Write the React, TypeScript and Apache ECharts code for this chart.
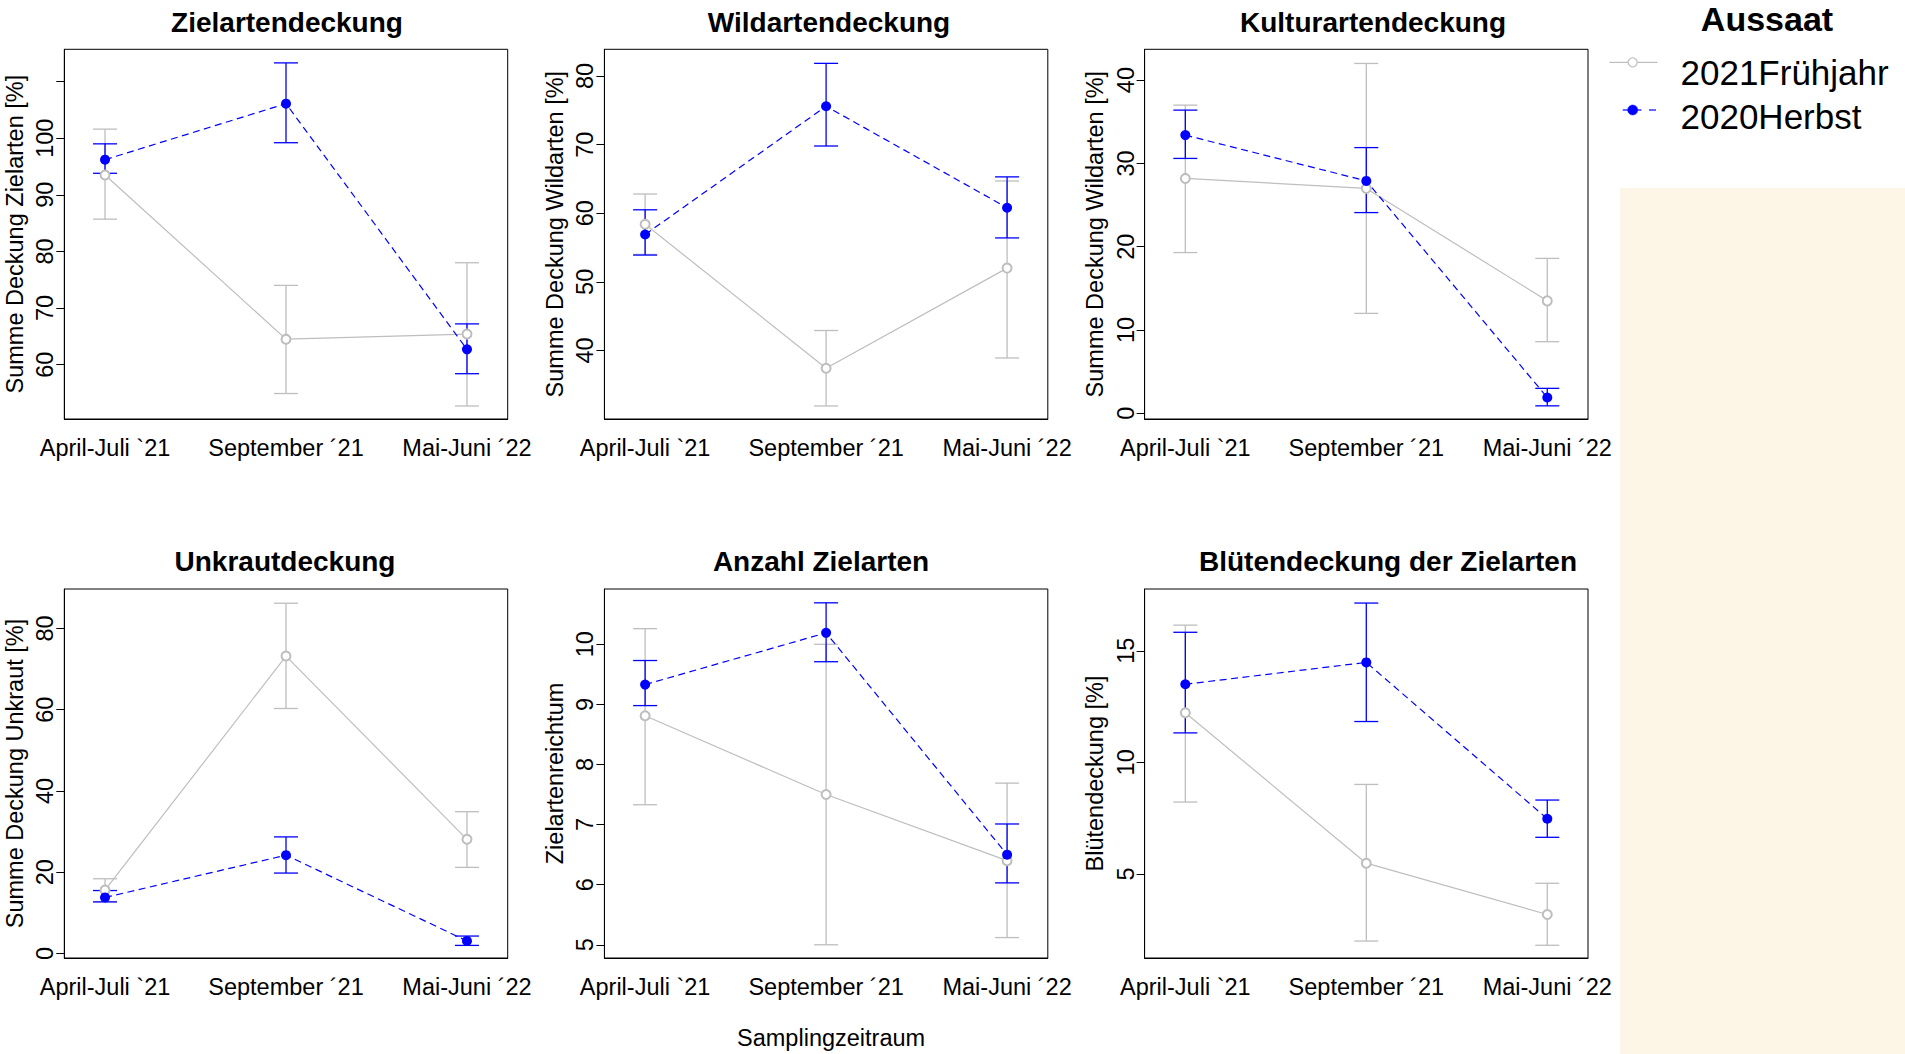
import React, { useEffect, useRef } from "react";
import * as echarts from "echarts";

// ---------- data ----------
const categories = ["April-Juli `21", "September ´21", "Mai-Juni ´22"];
const seriesNames = ["2021Frühjahr", "2020Herbst"];
const legendTitle = "Aussaat";
const xAxisTitle = "Samplingzeitraum";

const panelTitles = [
  "Zielartendeckung",
  "Wildartendeckung",
  "Kulturartendeckung",
  "Unkrautdeckung",
  "Anzahl Zielarten",
  "Blütendeckung der Zielarten",
];
const yAxisNames = [
  "Summe Deckung Zielarten [%]",
  "Summe Deckung Wildarten [%]",
  "Summe Deckung Wildarten [%]",
  "Summe Deckung Unkraut [%]",
  "Zielartenreichtum",
  "Blütendeckung [%]",
];

// Zielartendeckung
const zielFrMean = [93.5, 64.5, 65.4];
const zielFrLo = [85.7, 54.9, 52.7];
const zielFrHi = [101.6, 74.0, 78.0];
const zielHeMean = [96.2, 106.1, 62.7];
const zielHeLo = [93.8, 99.2, 58.4];
const zielHeHi = [99.0, 113.3, 67.2];
const zielTicks = [60, 70, 80, 90, 100, 110];
const zielTickLabels = [60, 70, 80, 90, 100];
const zielRange = [50.4, 115.7];

// Wildartendeckung
const wildFrMean = [58.4, 37.4, 52.0];
const wildFrLo = [54.0, 31.9, 38.9];
const wildFrHi = [62.8, 42.9, 64.7];
const wildHeMean = [56.9, 75.6, 60.8];
const wildHeLo = [53.9, 69.8, 56.4];
const wildHeHi = [60.5, 81.85, 65.3];
const wildTicks = [40, 50, 60, 70, 80];
const wildTickLabels = [40, 50, 60, 70, 80];
const wildRange = [30.0, 83.9];

// Kulturartendeckung
const kultFrMean = [28.2, 27.0, 13.5];
const kultFrLo = [19.3, 12.0, 8.6];
const kultFrHi = [37.0, 42.0, 18.6];
const kultHeMean = [33.4, 27.9, 1.9];
const kultHeLo = [30.6, 24.1, 0.9];
const kultHeHi = [36.4, 31.9, 3.0];
const kultTicks = [0, 10, 20, 30, 40];
const kultTickLabels = [0, 10, 20, 30, 40];
const kultRange = [-0.68, 43.7];

// Unkrautdeckung
const unkFrMean = [15.6, 73.2, 28.1];
const unkFrLo = [12.8, 60.3, 21.2];
const unkFrHi = [18.4, 86.2, 34.9];
const unkHeMean = [13.8, 24.2, 3.1];
const unkHeLo = [12.7, 19.8, 2.0];
const unkHeHi = [15.5, 28.7, 4.3];
const unkTicks = [0, 20, 40, 60, 80];
const unkTickLabels = [0, 20, 40, 60, 80];
const unkRange = [-1.1, 89.7];

// Anzahl Zielarten
const anzFrMean = [8.81, 7.5, 6.4];
const anzFrLo = [7.33, 5.0, 5.12];
const anzFrHi = [10.26, 10.0, 7.69];
const anzHeMean = [9.33, 10.19, 6.5];
const anzHeLo = [8.98, 9.71, 6.03];
const anzHeHi = [9.73, 10.69, 7.01];
const anzTicks = [5, 6, 7, 8, 9, 10];
const anzTickLabels = [5, 6, 7, 8, 9, 10];
const anzRange = [4.78, 10.92];

// Blütendeckung der Zielarten
const blueFrMean = [12.22, 5.48, 3.18];
const blueFrLo = [8.22, 1.99, 1.8];
const blueFrHi = [16.15, 9.01, 4.58];
const blueHeMean = [13.5, 14.48, 7.47];
const blueHeLo = [11.32, 11.83, 6.64];
const blueHeHi = [15.83, 17.14, 8.31];
const blueTicks = [5, 10, 15];
const blueTickLabels = [5, 10, 15];
const blueRange = [1.23, 17.77];

const panels = [
  { fr: [zielFrMean, zielFrLo, zielFrHi], he: [zielHeMean, zielHeLo, zielHeHi], ticks: zielTicks, labels: zielTickLabels, range: zielRange },
  { fr: [wildFrMean, wildFrLo, wildFrHi], he: [wildHeMean, wildHeLo, wildHeHi], ticks: wildTicks, labels: wildTickLabels, range: wildRange },
  { fr: [kultFrMean, kultFrLo, kultFrHi], he: [kultHeMean, kultHeLo, kultHeHi], ticks: kultTicks, labels: kultTickLabels, range: kultRange },
  { fr: [unkFrMean, unkFrLo, unkFrHi], he: [unkHeMean, unkHeLo, unkHeHi], ticks: unkTicks, labels: unkTickLabels, range: unkRange },
  { fr: [anzFrMean, anzFrLo, anzFrHi], he: [anzHeMean, anzHeLo, anzHeHi], ticks: anzTicks, labels: anzTickLabels, range: anzRange },
  { fr: [blueFrMean, blueFrLo, blueFrHi], he: [blueHeMean, blueHeLo, blueHeHi], ticks: blueTicks, labels: blueTickLabels, range: blueRange },
];

// ---------- layout / style ----------
const FONT = "'Liberation Sans', Arial, Helvetica, sans-serif";
const GREY = "#BEBEBE";
const BLUE = "#0000FF";
const gridLefts = [64.3, 604.4, 1144.6];
const gridTops = [49.3, 589];
const gridWidth = 443.4;
const gridHeights = [369.7, 369];
const titleCenters = [287, 829, 1373, 285, 821, 1388];
const titleTops = [8, 547];

function errRender(color: string) {
  return (params: any, api: any) => {
    const x = api.value(0);
    const lo = api.value(1);
    const hi = api.value(2);
    const a = api.coord([x, hi]);
    const b = api.coord([x, lo]);
    const hw = 12;
    const style = { stroke: color, lineWidth: 1.3, fill: null };
    return {
      type: "group",
      children: [
        { type: "line", shape: { x1: a[0], y1: a[1], x2: b[0], y2: b[1] }, style },
        { type: "line", shape: { x1: a[0] - hw, y1: a[1], x2: a[0] + hw, y2: a[1] }, style },
        { type: "line", shape: { x1: b[0] - hw, y1: b[1], x2: b[0] + hw, y2: b[1] }, style },
      ],
    };
  };
}

function buildLegendGraphic() {
  const x0 = 1609.5;
  const x1 = 1657.5;
  const xm = 1632.7;
  const textX = 1680.5;
  const y1 = 62.3;
  const y2 = 110;
  const textStyle = { fontSize: 35, fontFamily: FONT, fill: "#000", verticalAlign: "middle", align: "left" };
  return [
    { type: "line", silent: true, shape: { x1: x0, y1: y1, x2: x1, y2: y1 }, style: { stroke: GREY, lineWidth: 1.2 } },
    { type: "circle", silent: true, shape: { cx: xm, cy: y1, r: 4.5 }, style: { fill: "#fff", stroke: GREY, lineWidth: 1.2 } },
    { type: "text", silent: true, x: textX, y: 72.5, style: { ...textStyle, text: seriesNames[0] } },
    { type: "line", silent: true, shape: { x1: 1622.7, y1: y2, x2: 1641.5, y2: y2 }, style: { stroke: BLUE, lineWidth: 1.2 } },
    { type: "line", silent: true, shape: { x1: 1649, y1: y2, x2: 1656, y2: y2 }, style: { stroke: BLUE, lineWidth: 1.2 } },
    { type: "circle", silent: true, shape: { cx: xm, cy: y2, r: 5 }, style: { fill: BLUE, stroke: BLUE, lineWidth: 0.5 } },
    { type: "text", silent: true, x: textX, y: 116.3, style: { ...textStyle, text: seriesNames[1] } },
  ];
}

function buildOption() {
  const xs = [1, 2, 3];
  const grid: any[] = [];
  const xAxis: any[] = [];
  const yAxis: any[] = [];
  const series: any[] = [];
  const title: any[] = [];

  panels.forEach((p, i) => {
    const col = i % 3;
    const row = Math.floor(i / 3);
    grid.push({
      left: gridLefts[col],
      top: gridTops[row],
      width: gridWidth,
      height: gridHeights[row],
      show: true,
      borderColor: "#000",
      borderWidth: 1,
      backgroundColor: "transparent",
      containLabel: false,
      outerBoundsMode: "none",
    });
    xAxis.push({
      type: "value",
      gridIndex: i,
      min: 0.775,
      max: 3.225,
      axisLine: { show: true, onZero: false, lineStyle: { color: "#000", width: 1 } },
      axisTick: { show: false },
      splitLine: { show: false },
      axisLabel: {
        customValues: xs,
        formatter: (v: number) => categories[Math.round(v) - 1] ?? "",
        fontSize: 23.5,
        color: "#000",
        fontFamily: FONT,
        margin: 17,
      },
      ...(i === 4
        ? {
            name: xAxisTitle,
            nameLocation: "middle",
            nameGap: 68,
            nameTextStyle: { fontSize: 23.5, color: "#000", fontFamily: FONT, padding: [0, 0, 0, 10] },
          }
        : {}),
    });
    yAxis.push({
      type: "value",
      gridIndex: i,
      min: p.range[0],
      max: p.range[1],
      axisLine: { show: true, onZero: false, lineStyle: { color: "#000", width: 1 } },
      axisTick: { show: true, length: 8, customValues: p.ticks, lineStyle: { color: "#000", width: 1 } },
      splitLine: { show: false },
      axisLabel: {
        customValues: p.labels,
        rotate: 90,
        margin: 7,
        fontSize: 23.5,
        color: "#000",
        fontFamily: FONT,
      },
      name: yAxisNames[i],
      nameLocation: "middle",
      nameRotate: 90,
      nameGap: 37.5,
      nameTextStyle: { fontSize: 23.5, color: "#000", fontFamily: FONT },
    });
    title.push({
      text: panelTitles[i],
      left: titleCenters[i],
      top: titleTops[row],
      textAlign: "center",
      padding: 0,
      textStyle: { fontSize: 28, fontWeight: "bold", color: "#000", fontFamily: FONT },
    });

    series.push({
      type: "custom",
      name: seriesNames[0] + " SE",
      xAxisIndex: i,
      yAxisIndex: i,
      silent: true,
      z: 2,
      encode: { x: 0, y: [1, 2] },
      data: xs.map((x, k) => [x, p.fr[1][k], p.fr[2][k]]),
      renderItem: errRender(GREY),
    });
    series.push({
      type: "custom",
      name: seriesNames[1] + " SE",
      xAxisIndex: i,
      yAxisIndex: i,
      silent: true,
      z: 3,
      encode: { x: 0, y: [1, 2] },
      data: xs.map((x, k) => [x, p.he[1][k], p.he[2][k]]),
      renderItem: errRender(BLUE),
    });
    series.push({
      type: "line",
      name: seriesNames[0],
      xAxisIndex: i,
      yAxisIndex: i,
      z: 4,
      symbol: "emptyCircle",
      symbolSize: 9,
      itemStyle: { color: GREY, borderWidth: 1.2 },
      lineStyle: { color: GREY, width: 1.2 },
      data: xs.map((x, k) => [x, p.fr[0][k]]),
    });
    series.push({
      type: "line",
      name: seriesNames[1],
      xAxisIndex: i,
      yAxisIndex: i,
      z: 5,
      symbol: "circle",
      symbolSize: 10,
      itemStyle: { color: BLUE },
      lineStyle: { color: BLUE, width: 1.2, type: [7, 4.5] },
      data: xs.map((x, k) => [x, p.he[0][k]]),
    });
  });

  title.push({
    text: legendTitle,
    left: 1767,
    top: 2,
    textAlign: "center",
    padding: 0,
    textStyle: { fontSize: 34, fontWeight: "bold", color: "#000", fontFamily: FONT },
  });

  return {
    animation: false,
    backgroundColor: "#fff",
    title,
    grid,
    xAxis,
    yAxis,
    series,
    graphic: [
      {
        type: "rect",
        left: 1620,
        top: 188,
        z: 0,
        shape: { width: 285, height: 866 },
        style: { fill: "#FDF5E6" },
        silent: true,
      },
      ...buildLegendGraphic(),
    ],
  };
}

export default function App() {
  const ref = useRef<HTMLDivElement>(null);
  useEffect(() => {
    const chart = echarts.init(ref.current as HTMLDivElement, null, { renderer: "svg" });
    chart.setOption(buildOption() as any);
    return () => chart.dispose();
  }, []);
  return (
    <div
      ref={ref}
      style={{ position: "fixed", left: 0, top: 0, width: 1905, height: 1054, background: "#fff" }}
    />
  );
}
